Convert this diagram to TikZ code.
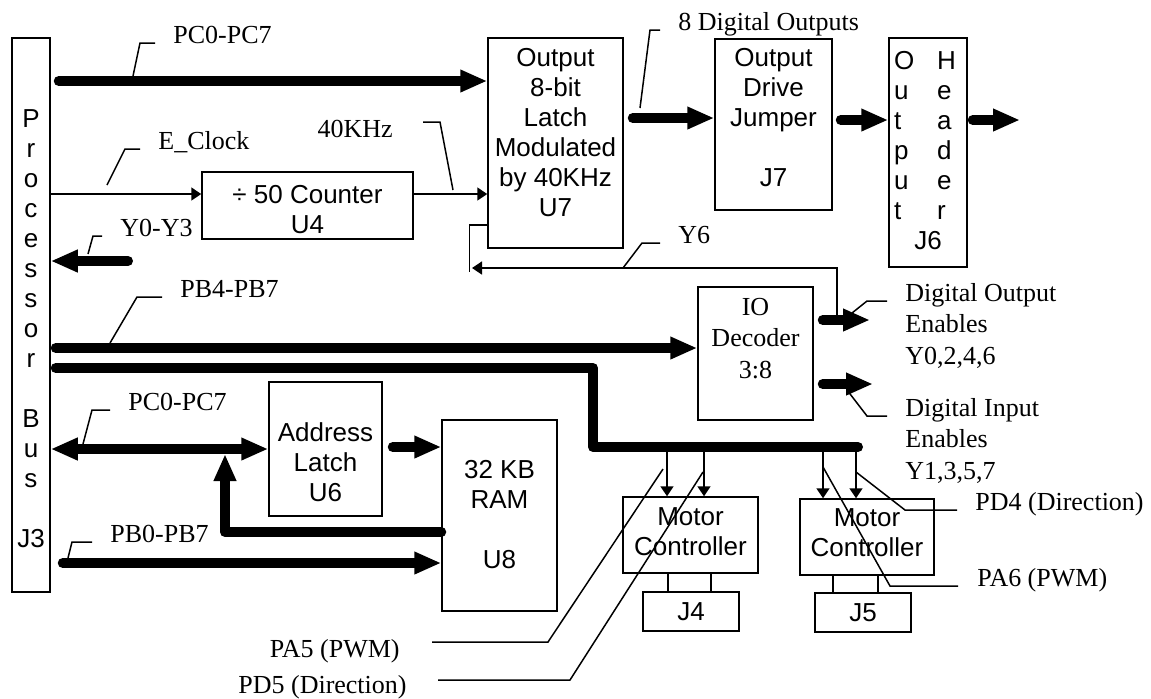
\documentclass[tikz,border=0pt]{standalone}
\usepackage{fontspec}
\setmainfont{Liberation Serif}
\setsansfont{Liberation Sans}
\usetikzlibrary{arrows.meta, calc}
\tikzset{
  blk/.style={     % plain block outline
    draw=black, line width=0.75pt, inner sep=0pt
  },
  bfnt/.style={    % Arial text inside a block
    font=\sffamily\fontsize{13}{15}\selectfont, inner sep=0pt
  },
  btxt/.style={bfnt, align=center},
  ltxt/.style={    % Times callout text
    font=\rmfamily\fontsize{13}{15.75}\selectfont, inner sep=0pt
  },
  bus/.style={line width=5pt, line cap=round, line join=round},
  barr/.style={bus, -{Triangle[length=13.5pt, width=10.5pt]}},
  bdbl/.style={bus, {Triangle[length=13.5pt, width=10.5pt]}-{Triangle[length=13.5pt, width=10.5pt]}},
  sig/.style={line width=0.75pt},
  sarr/.style={sig, -{Triangle[length=5pt, width=6.5pt]}},
  lead/.style={line width=0.75pt},
}
\begin{document}
\begin{tikzpicture}[x=0.5pt, y=-0.5pt]
\fill[white] (0,0) rectangle (1151,698);
\useasboundingbox (0,0) rectangle (1151,698);

%% ─── PROCESSOR BUS (J3) ──────────────────────────────────────────────────────
\node[blk, minimum width=19pt, minimum height=277pt] (pbus) at (31,315) {};
\node[btxt] (pbusT) at (31,329)
  {P\\r\\o\\c\\e\\s\\s\\o\\r\\[15pt]B\\u\\s\\[15pt]J3};

%% ─── BLOCKS ──────────────────────────────────────────────────────────────────
\node[blk, minimum width=105.5pt, minimum height=33.5pt] (ctr) at (307.5,205.5) {};
\node[btxt] (ctrT) at (307.5,210) {÷ 50 Counter\\U4};

\node[blk, minimum width=67.5pt, minimum height=105pt] (latch) at (555.5,143) {};
\node[btxt] (latchT) at (555.5,133) {Output\\8-bit\\Latch\\Modulated\\by 40KHz\\U7};

\node[blk, minimum width=58.5pt, minimum height=85.5pt] (jmp) at (773.5,124.5) {};
\node[btxt] (jmpT) at (773.5,118) {Output\\Drive\\Jumper\\[15pt]J7};

\node[blk, minimum width=39pt, minimum height=114.5pt] (hdr) at (928,152.5) {};
\node[bfnt] (hdrT) at (925,153)
  {\begin{tabular}{@{}p{21.5pt}@{}l@{}}
   O&H\\u&e\\t&a\\p&d\\u&e\\t&r\\
   \multicolumn{2}{@{}c@{}}{\hspace{3pt}J6}
   \end{tabular}};

\node[blk, minimum width=57.5pt, minimum height=66.5pt] (iodec) at (755.5,353.5) {};
\node[btxt, font=\rmfamily\fontsize{13}{15.75}\selectfont] (iodecT) at (755.5,338.5)
  {IO\\Decoder\\3:8};

\node[blk, minimum width=56.5pt, minimum height=67pt] (addr) at (325.5,449) {};
\node[btxt] (addrT) at (325.5,462) {Address\\Latch\\U6};

\node[blk, minimum width=57.5pt, minimum height=95.5pt] (ram) at (499.5,515.5) {};
\node[btxt] (ramT) at (499.5,515) {32 KB\\RAM\\[15pt]U8};

\node[blk, minimum width=67.5pt, minimum height=38pt] (mc1) at (690.5,535) {};
\node[btxt] (mc1T) at (690.5,532) {Motor\\Controller};
\node[blk, minimum width=67pt, minimum height=38pt] (mc2) at (867,537) {};
\node[btxt] (mc2T) at (867,533) {Motor\\Controller};

\node[blk, minimum width=48pt, minimum height=19.5pt] (j4) at (691,611.5) {};
\node[btxt] (j4T) at (691,611.5) {J4};
\node[blk, minimum width=48pt, minimum height=19.5pt] (j5) at (863,612.5) {};
\node[btxt] (j5T) at (863,612.5) {J5};

%% ─── ROWS AND FREE ENDS ──────────────────────────────────────────────────────
\coordinate (rPCa) at (0,81);
\coordinate (rDO)  at (0,118);
\coordinate (rHD)  at (0,120);
\coordinate (rEC)  at (0,194);
\coordinate (rBr)  at (0,225);
\coordinate (rY03) at (128,261);
\coordinate (rDOE) at (0,320);
\coordinate (rPB4) at (0,348);
\coordinate (rMB)  at (0,368);
\coordinate (rDIE) at (0,384);
\coordinate (rAR)  at (0,447);
\coordinate (rPCb) at (0,449);
\coordinate (rUp)  at (0,532);
\coordinate (rPB0) at (0,563);

\coordinate (hdrOut) at (1020,120);
\coordinate (doeEnd) at (870,320);
\coordinate (dieEnd) at (873,384);
\coordinate (y6Src)  at (837,320);
\coordinate (y6Tip)  at (472,268);
\coordinate (mbBend) at (593,447);
\coordinate (mbEnd)  at (858,447);
\coordinate (upTip)  at (225,454);
\coordinate (tA) at (667,447);
\coordinate (tB) at (704,447);
\coordinate (tC) at (823,447);
\coordinate (tD) at (856,447);

%% ─── BUSES ───────────────────────────────────────────────────────────────────
\draw[barr, shorten <=4pt]   (pbus.east |- rPCa) -- (latch.west |- rPCa);
\draw[barr, shorten <=4.5pt] (latch.east |- rDO) -- (jmp.west |- rDO);
\draw[barr, shorten <=4pt]   (jmp.east |- rHD)   -- (hdr.west |- rHD);
\draw[barr, shorten <=2.5pt] (hdr.east |- rHD)   -- (hdrOut);
\draw[barr]                  (rY03) -- (pbus.east |- rY03);
\draw[barr, shorten <=2.5pt] (pbus.east |- rPB4) -- (iodec.west |- rPB4);
\draw[bus,  shorten <=2.5pt] (pbus.east |- rMB)  -| (mbBend) -- (mbEnd);
\draw[barr, shorten <=4.5pt] (iodec.east |- rDOE) -- (doeEnd);
\draw[barr, shorten <=4.5pt] (iodec.east |- rDIE) -- (dieEnd);
\draw[bdbl]                  (pbus.east |- rPCb) -- (addr.west |- rPCb);
\draw[barr, shorten <=5pt]   (addr.east |- rAR)  -- (ram.west |- rAR);
\draw[barr]                  (ram.west |- rUp)   -| (upTip);
\draw[barr, shorten <=6pt]   (pbus.east |- rPB0) -- (ram.west |- rPB0);

%% ─── SIGNALS ─────────────────────────────────────────────────────────────────
\draw[sarr] (pbus.east |- rEC) -- (ctr.west |- rEC);
\draw[sarr] (ctr.east |- rEC)  -- (latch.west |- rEC);
\draw[sarr] (y6Src) |- (y6Tip);
\draw[sig]  (latch.west |- rBr) -- ++(-18,0) -- ++(0,47);

% taps off the motor bus
\draw[sarr] (tA) -- (tA |- mc1.north);
\draw[sarr] (tB) -- (tB |- mc1.north);
\draw[sarr] (tC) -- (tC |- mc2.north);
\draw[sarr] (tD) -- (tD |- mc2.north);

\draw[sig] ($(j4.north)+(-23,0)$) -- ($(mc1.south)+(-22.5,0)$);
\draw[sig] ($(j4.north)+(20,0)$)  -- ($(mc1.south)+(20.5,0)$);
\draw[sig] ($(j5.north)+(-30,0)$) -- ($(mc2.south)+(-34,0)$);
\draw[sig] ($(j5.north)+(15,0)$)  -- ($(mc2.south)+(11,0)$);

%% ─── CALLOUTS ────────────────────────────────────────────────────────────────
\node[ltxt, anchor=base west] (lPCa) at (173,43) {PC0-PC7};
\draw[lead] (133,76) -- (140,43) -- ([xshift=-9pt]lPCa.base west);

\node[ltxt, anchor=base west] (lEC) at (158,149) {E\_Clock};
\draw[lead] (107,185) -- (125,149) -- ([xshift=-9pt]lEC.base west);

\node[ltxt, anchor=base east] (l40) at (393,137) {40KHz};
\draw[lead] (453,190) -- (440,122) -- ([xshift=15pt, yshift=7.5pt]l40.base east);

\node[ltxt, anchor=base west] (lY03) at (120,236) {Y0-Y3};
\draw[lead] (88,254) -- (93,236) -- ([xshift=-9pt]lY03.base west);

\node[ltxt, anchor=base west] (lDO) at (678,30) {8 Digital Outputs};
\draw[lead] (640,108) -- (650,30) -- ([xshift=-9pt]lDO.base west);

\node[ltxt, anchor=base west] (lY6) at (678,243) {Y6};
\draw[lead] (623,268) -- (642,243) -- ([xshift=-9pt]lY6.base west);

\node[ltxt, anchor=base west] (lPB4) at (180,297) {PB4-PB7};
\draw[lead] (110,343) -- (137,297) -- ([xshift=-9pt]lPB4.base west);

\node[ltxt, anchor=north west, align=left] (lDOE) at (905,283)
  {Digital Output\\Enables\\Y0,2,4,6};
\draw[lead] (852,313) -- (867,301) -- ([xshift=-9pt, yshift=-9pt]lDOE.north west);

\node[ltxt, anchor=north west, align=left] (lDIE) at (905,398)
  {Digital Input\\Enables\\Y1,3,5,7};
\draw[lead] (847,390) -- (867,416) -- ([xshift=-9pt, yshift=-9pt]lDIE.north west);

\node[ltxt, anchor=base west] (lPCb) at (128,410) {PC0-PC7};
\draw[lead] (83,444) -- (92,410) -- ([xshift=-9pt]lPCb.base west);

\node[ltxt, anchor=base west] (lPB0) at (110,542) {PB0-PB7};
\draw[lead] (68,558) -- (72,542) -- ([xshift=-9pt]lPB0.base west);

\node[ltxt, anchor=base east] (lPA5) at (400,657) {PA5 (PWM)};
\draw[lead] (663,469) -- (548,642) -- ([xshift=16pt, yshift=7.5pt]lPA5.base east);

\node[ltxt, anchor=base east] (lPD5) at (407,693) {PD5 (Direction)};
\draw[lead] (703,472) -- (570,680) -- ([xshift=15.5pt, yshift=6.5pt]lPD5.base east);

\node[ltxt, anchor=base west] (lPD4) at (975,510) {PD4 (Direction)};
\draw[lead] (856,472) -- (905,510) -- ([xshift=-9pt]lPD4.base west);

\node[ltxt, anchor=base west] (lPA6) at (977,586) {PA6 (PWM)};
\draw[lead] (823,467) -- (890,586) -- ([xshift=-9.5pt]lPA6.base west);

\end{tikzpicture}
\end{document}
